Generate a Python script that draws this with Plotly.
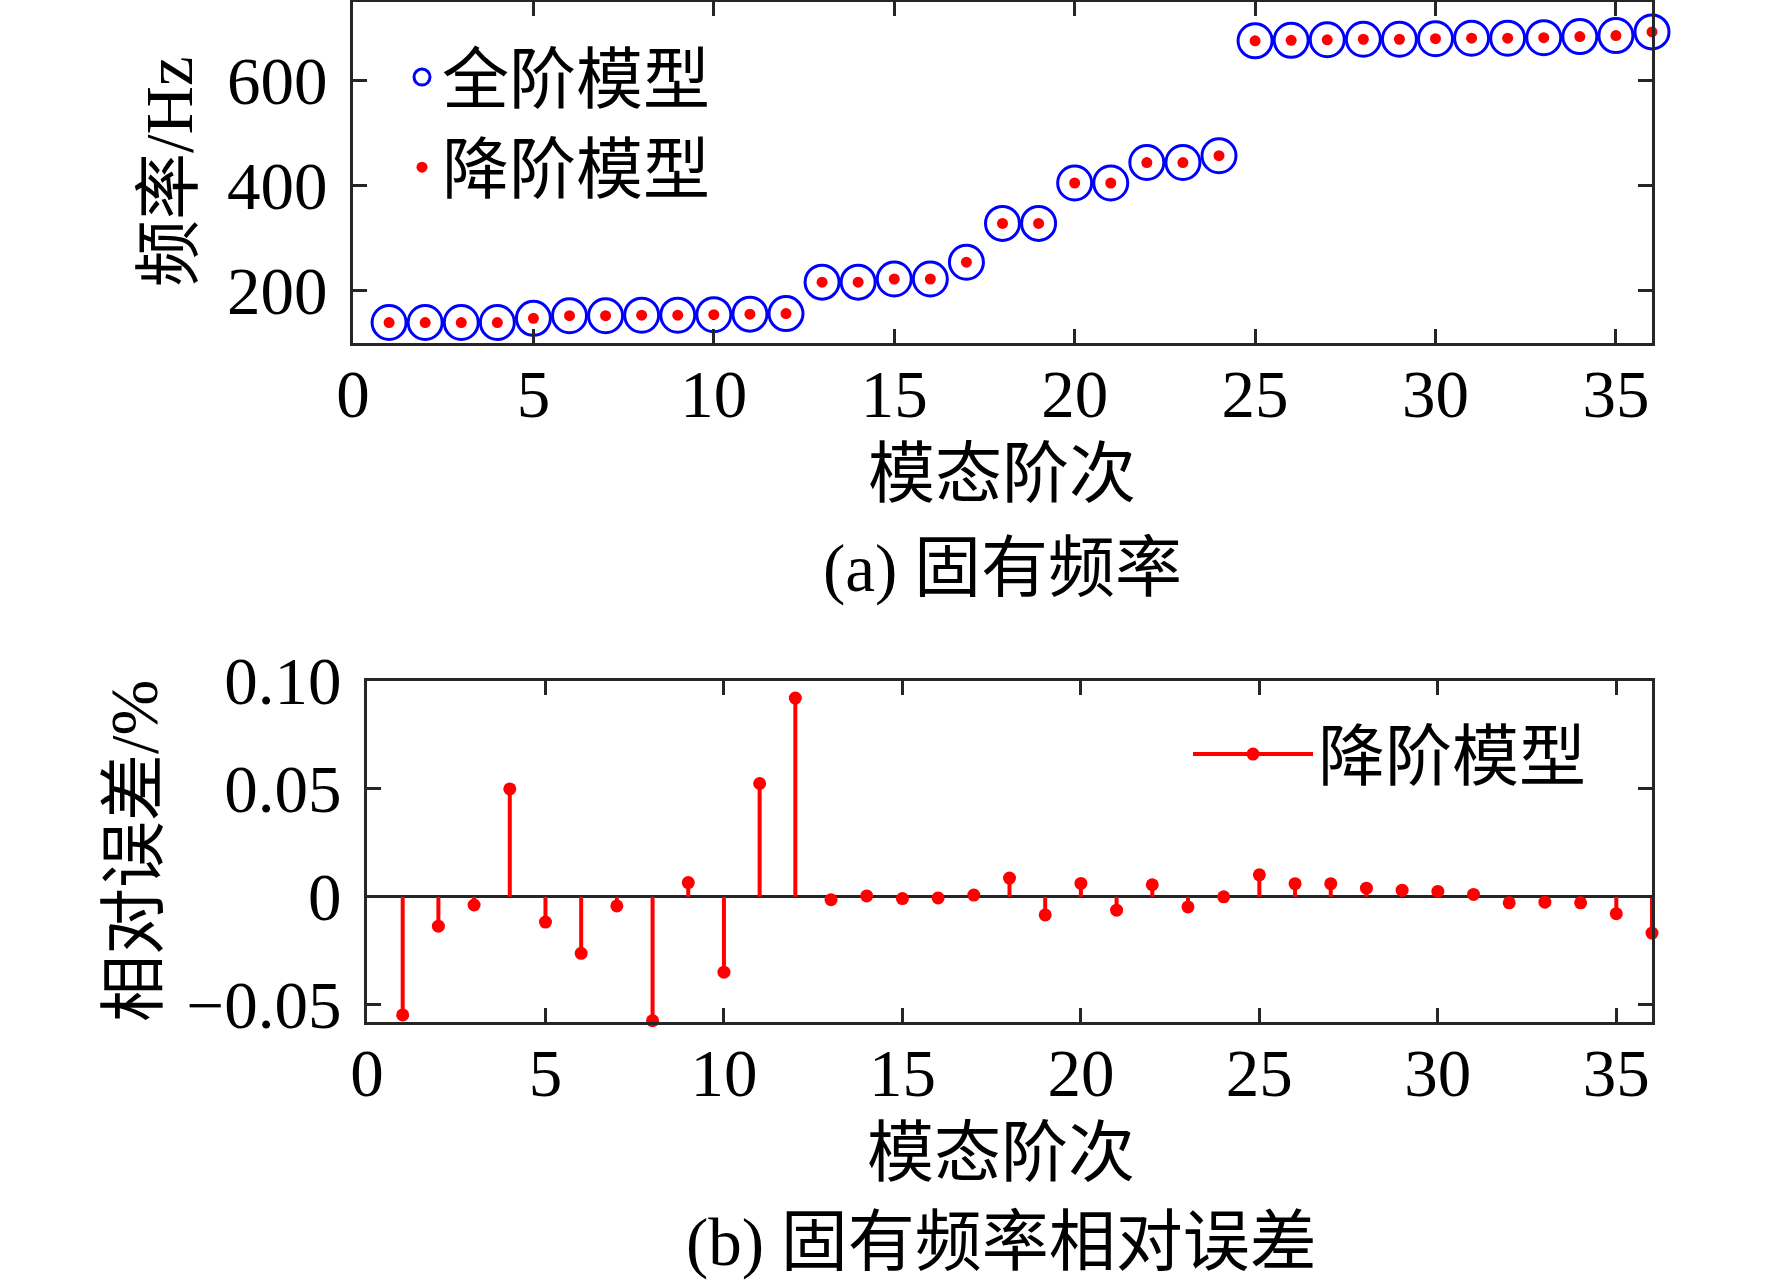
import plotly.graph_objects as go

# mode order 1..36
modes = list(range(1, 37))

# natural frequency, Hz (full-order and reduced-order model overlap)
freq_full = [139, 139, 139, 139, 147, 152, 152, 153, 153, 154, 155, 156,
             216, 216, 222, 222, 254, 328, 328, 405, 405, 444, 444, 457,
             676, 677, 678, 679, 679, 680, 681, 681, 682, 684, 686, 693]
freq_reduced = [139, 139, 139, 139, 147, 152, 152, 153, 153, 154, 155, 156,
                216, 216, 222, 222, 254, 328, 328, 405, 405, 444, 444, 457,
                676, 677, 678, 679, 679, 680, 681, 681, 682, 684, 686, 693]

# relative error of reduced model, %
rel_err = [-0.0547, -0.0136, -0.0038, 0.0500, -0.0117, -0.0262, -0.0042, -0.0574,
           0.0066, -0.0349, 0.0525, 0.0921, -0.0013, 0.0004, -0.0008, -0.0005,
           0.0008, 0.0087, -0.0084, 0.0062, -0.0062, 0.0056, -0.0047, 0.0000,
           0.0102, 0.0061, 0.0061, 0.0040, 0.0031, 0.0025, 0.0011, -0.0028,
           -0.0025, -0.0028, -0.0078, -0.0168]

x_ticks = [0, 5, 10, 15, 20, 25, 30, 35]
freq_ticks = [200, 400, 600]
err_ticks = [-0.05, 0, 0.05, 0.10]
err_ticktext = ["\u22120.05", "0", "0.05", "0.10"]

W, H = 1772, 1287
FONT = "Liberation Serif, Noto Sans CJK SC, serif"
AX = "#262626"
FS = 67

fig = go.Figure()

#-------------------------------------------------------------------------------
# (a) natural frequencies
fig.add_trace(go.Scatter(
    x=modes, y=freq_full, mode="markers", name="全阶模型",
    marker=dict(symbol="circle-open", size=34, color="#0000FF", line=dict(width=3)),
    cliponaxis=False, legend="legend"))
fig.add_trace(go.Scatter(
    x=modes, y=freq_reduced, mode="markers", name="降阶模型",
    marker=dict(symbol="circle", size=11, color="#FF0000"),
    cliponaxis=False, legend="legend"))

#-------------------------------------------------------------------------------
# (b) relative error, stem plot
stem_x, stem_y = [], []
for m, e in zip(modes, rel_err):
    stem_x += [m, m, None]
    stem_y += [0, e, None]

fig.add_trace(go.Scatter(
    x=stem_x, y=stem_y, mode="lines", line=dict(color="#FF0000", width=4),
    showlegend=False, xaxis="x2", yaxis="y2", cliponaxis=False))
fig.add_trace(go.Scatter(
    x=modes, y=rel_err, mode="markers",
    marker=dict(symbol="circle", size=13, color="#FF0000"),
    showlegend=False, xaxis="x2", yaxis="y2", cliponaxis=False))
# legend entry only
fig.add_trace(go.Scatter(
    x=[None], y=[None], mode="lines+markers", name="降阶模型",
    line=dict(color="#FF0000", width=4),
    marker=dict(symbol="circle", size=13, color="#FF0000"),
    xaxis="x2", yaxis="y2", legend="legend2"))

axis_style = dict(
    showline=True, linecolor=AX, linewidth=3, mirror="ticks",
    ticks="inside", ticklen=14, tickwidth=3, tickcolor=AX,
    showgrid=False, zeroline=False, automargin=False,
    tickfont=dict(family=FONT, size=FS, color="black"),
)

fig.update_layout(
    width=W, height=H,
    margin=dict(l=0, r=0, t=0, b=0, autoexpand=False),
    paper_bgcolor="white", plot_bgcolor="white",
    font=dict(family=FONT, size=FS, color="black"),
    xaxis=dict(domain=[353 / W, 1652 / W], range=[0, 36], anchor="y",
               tickvals=x_ticks, ticklabelstandoff=-9, **axis_style),
    yaxis=dict(domain=[1 - 343 / H, 1 - 2 / H], range=[100, 750], anchor="x",
               tickvals=freq_ticks, ticklabelstandoff=9, **axis_style),
    xaxis2=dict(domain=[367 / W, 1652 / W], range=[0, 36], anchor="y2",
                tickvals=x_ticks, ticklabelstandoff=-9, **axis_style),
    yaxis2=dict(domain=[1 - 1022 / H, 1 - 681 / H], range=[-0.058, 0.10], anchor="x2",
                tickvals=err_ticks, ticktext=err_ticktext, ticklabelstandoff=9,
                **axis_style),
    legend=dict(x=402 / W, y=1 - 27 / H, xanchor="left", yanchor="top",
                bgcolor="rgba(0,0,0,0)", borderwidth=0,
                font=dict(family=FONT, size=FS), tracegroupgap=0),
    legend2=dict(x=1188 / W, y=1 - 704 / H, xanchor="left", yanchor="top",
                 bgcolor="rgba(0,0,0,0)", borderwidth=0, itemwidth=120,
                 font=dict(family=FONT, size=FS)),
)

# zero baseline of the stem plot
fig.update_yaxes(selector=dict(anchor="x2"), zeroline=True,
                 zerolinecolor=AX, zerolinewidth=3)

ann = dict(xref="paper", yref="paper", showarrow=False,
           xanchor="center", yanchor="middle",
           font=dict(family=FONT, size=FS, color="black"))
fig.update_layout(annotations=[
    dict(text="模态阶次", x=1002 / W, y=1 - 474 / H, **ann),
    dict(text="(a) 固有频率", x=1002 / W, y=1 - 568 / H, **ann),
    dict(text="模态阶次", x=1001 / W, y=1 - 1153 / H, **ann),
    dict(text="(b) 固有频率相对误差", x=1001 / W, y=1 - 1242 / H, **ann),
    dict(text="频率/Hz", x=169 / W, y=1 - 172 / H, textangle=-90, **ann),
    dict(text="相对误差/%", x=134 / W, y=1 - 851 / H, textangle=-90, **ann),
])

fig.write_html("out.html", config={"displayModeBar": False},
               post_script="document.body.style.margin='0px';")
